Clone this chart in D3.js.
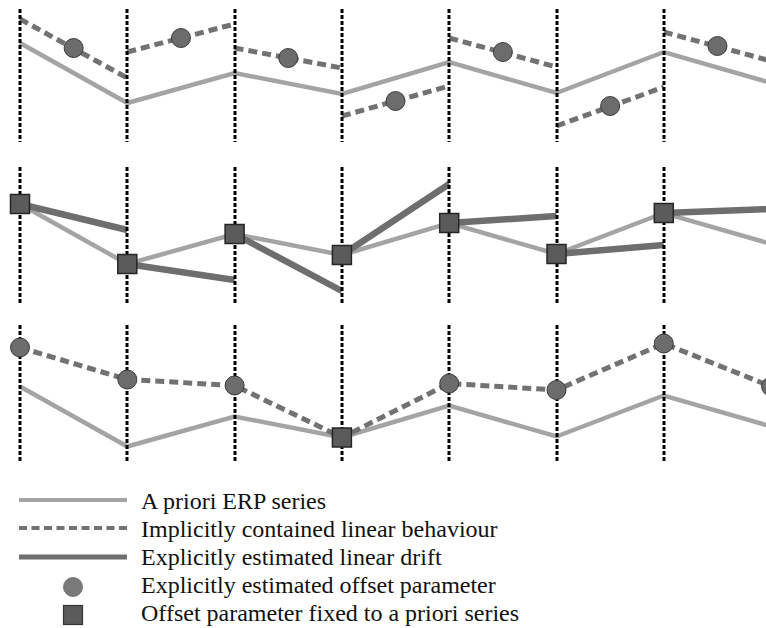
<!DOCTYPE html>
<html>
<head>
<meta charset="utf-8">
<script src="https://cdn.jsdelivr.net/npm/d3@7"></script>
</head>
<body style="margin:0">
<script>
// ---------------- DATA ----------------
// epoch boundaries (index of each parameter epoch)
const epochs = [0, 1, 2, 3, 4, 5, 6, 7];
// a priori ERP series, value at each boundary (same series in every panel)
const apriori = [99, 39, 69, 48, 80, 49, 90, 59];

// Panel 1: implicitly contained linear behaviour (per interval start / end) and offsets
const implicitStart = [123, 90, 94, 26, 104, 16, 110];
const implicitEnd   = [64, 118, 74, 56, 75, 55, 81];
const offsetP1      = [94, 104, 84, 41, 90, 36, 96];

// Panel 2: explicitly estimated linear drift, end value of each interval
// (drift starts at the a priori value, offset fixed to a priori series)
const driftEnd = [73, 23, 12, 119, 87, 58, 94];

// Panel 3: explicitly estimated offsets at boundaries; null = fixed to a priori
const offsetP3 = [138, 106, 100, null, 102, 95.5, 142, 99];

const legendLabels = [
  "A priori ERP series",
  "Implicitly contained linear behaviour",
  "Explicitly estimated linear drift",
  "Explicitly estimated offset parameter",
  "Offset parameter fixed to a priori series"
];

// ---------------- LAYOUT ----------------
const W = 766, H = 628;
const svg = d3.select("body").append("svg").attr("width", W).attr("height", H)
  .attr("font-family", "Liberation Serif, Tinos, Times New Roman, Times");

const x = d3.scaleLinear().domain([0, 7]).range([20, 771.1]);

const panels = [
  { domain: [0, 133], range: [142, 9] },
  { domain: [0, 136], range: [303, 167] },
  { domain: [22.5, 160.5], range: [463, 325] }
];
const ys = panels.map(p => d3.scaleLinear().domain(p.domain).range(p.range));

const C = {
  apriori: "#a4a4a4",
  dashed: "#727272",
  drift: "#6e6e6e",
  circle: "#6c6c6c",
  circleStroke: "#3c3c3c",
  square: "#5b5b5b",
  squareStroke: "#262626"
};

const line = (y) => d3.line().x(d => x(d[0])).y(d => y(d[1]));
const apData = epochs.map((e, i) => [e, apriori[i]]);

function drawApriori(g, y) {
  g.append("path").datum(apData)
    .attr("d", line(y)).attr("fill", "none")
    .attr("stroke", C.apriori).attr("stroke-width", 4.5)
    .attr("stroke-linejoin", "miter");
}
function drawGuides(g, p, y) {
  g.selectAll("line.guide").data(epochs.slice(0, 7)).enter().append("line")
    .attr("class", "guide")
    .attr("x1", d => Math.round(x(d))).attr("x2", d => Math.round(x(d)))
    .attr("y1", y(p.domain[1])).attr("y2", y(p.domain[0]))
    .attr("stroke", "#000").attr("stroke-width", 3)
    .attr("stroke-dasharray", "4,2");
}
function drawCircles(g, pts) {
  g.selectAll("circle.off").data(pts).enter().append("circle")
    .attr("class", "off")
    .attr("cx", d => d[0]).attr("cy", d => d[1]).attr("r", 9.5)
    .attr("fill", C.circle).attr("stroke", C.circleStroke).attr("stroke-width", 1);
}
function drawSquares(g, pts) {
  g.selectAll("rect.fix").data(pts).enter().append("rect")
    .attr("class", "fix")
    .attr("x", d => d[0] - 9.5).attr("y", d => d[1] - 9.5)
    .attr("width", 19).attr("height", 19)
    .attr("fill", C.square).attr("stroke", C.squareStroke).attr("stroke-width", 1.5);
}

// ---------- Panel 1 ----------
{
  const g = svg.append("g"), y = ys[0];
  drawApriori(g, y);
  const segs = implicitStart.map((s, i) => [[i, s], [i + 1, implicitEnd[i]]]);
  g.selectAll("path.imp").data(segs).enter().append("path")
    .attr("class", "imp").attr("d", line(y)).attr("fill", "none")
    .attr("stroke", C.dashed).attr("stroke-width", 5)
    .attr("stroke-dasharray", "9,5");
  drawGuides(g, panels[0], y);
  drawCircles(g, offsetP1.map((v, i) => [x(i + 0.5), y(v)]));
}

// ---------- Panel 2 ----------
{
  const g = svg.append("g"), y = ys[1];
  drawApriori(g, y);
  const segs = driftEnd.map((v, i) => [[i, apriori[i]], [i + 1, v]]);
  g.selectAll("path.drift").data(segs).enter().append("path")
    .attr("class", "drift").attr("d", line(y)).attr("fill", "none")
    .attr("stroke", C.drift).attr("stroke-width", 6.5);
  drawGuides(g, panels[1], y);
  drawSquares(g, epochs.slice(0, 7).map(i => [x(i), y(apriori[i])]));
}

// ---------- Panel 3 ----------
{
  const g = svg.append("g"), y = ys[2];
  drawApriori(g, y);
  const pts = offsetP3.map((v, i) => [i, v === null ? apriori[i] : v]);
  g.append("path").datum(pts).attr("d", line(y)).attr("fill", "none")
    .attr("stroke", C.dashed).attr("stroke-width", 5)
    .attr("stroke-dasharray", "9,5");
  drawGuides(g, panels[2], y);
  drawCircles(g, offsetP3.map((v, i) => v === null ? null : [x(i), y(v)]).filter(d => d));
  drawSquares(g, offsetP3.map((v, i) => v === null ? [x(i), y(apriori[i])] : null).filter(d => d));
}

// ---------- Legend ----------
{
  const g = svg.append("g");
  const rowY = [500, 528, 557, 587, 615];
  const baseY = [509, 537, 565, 593, 621];
  const lx1 = 19, lx2 = 127, mx = 73;
  g.append("line").attr("x1", lx1).attr("x2", lx2).attr("y1", rowY[0]).attr("y2", rowY[0])
    .attr("stroke", C.apriori).attr("stroke-width", 4);
  g.append("line").attr("x1", lx1).attr("x2", lx2).attr("y1", rowY[1]).attr("y2", rowY[1])
    .attr("stroke", C.dashed).attr("stroke-width", 4).attr("stroke-dasharray", "8,4.5");
  g.append("line").attr("x1", lx1).attr("x2", lx2).attr("y1", rowY[2]).attr("y2", rowY[2])
    .attr("stroke", C.drift).attr("stroke-width", 5);
  g.append("circle").attr("cx", mx).attr("cy", rowY[3]).attr("r", 9.5)
    .attr("fill", "#7a7a7a").attr("stroke", "#666").attr("stroke-width", 0.8);
  g.append("rect").attr("x", mx - 9.5).attr("y", rowY[4] - 9.5).attr("width", 19).attr("height", 19)
    .attr("fill", C.square).attr("stroke", "#333").attr("stroke-width", 1.2);
  g.selectAll("text").data(legendLabels).enter().append("text")
    .attr("x", 141).attr("y", (d, i) => baseY[i])
    .attr("font-family", "Liberation Serif, Tinos, Times New Roman, Times")
    .style("font-family", d => `"Liberation Serif", "Tinos", "Times New Roman", "Times"`)
    .attr("font-size", 24).attr("fill", "#111")
    .text(d => d);
}
</script>
</body>
</html>
